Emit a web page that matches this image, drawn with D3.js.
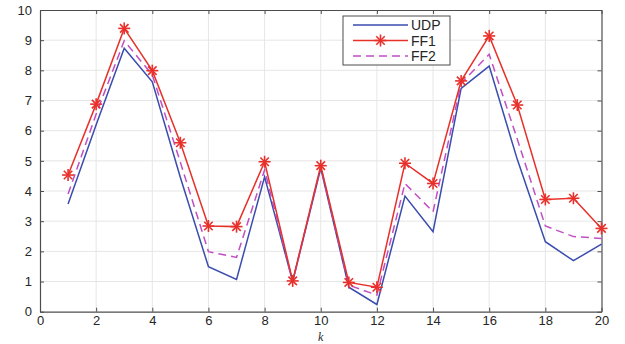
<!DOCTYPE html>
<html>
<head>
<meta charset="utf-8">
<script src="https://cdn.jsdelivr.net/npm/d3@7"></script>
<style>
  html, body { margin: 0; padding: 0; background: #fff; }
  svg { display: block; }
  text { font-family: "Liberation Sans", Arial, sans-serif; }
</style>
</head>
<body>
<svg id="chart" width="625" height="344"></svg>
<script>
// Series values for k = 1..20
const k = d3.range(1, 21);
const udp = [3.57, 6.2, 8.73, 7.62, 4.45, 1.49, 1.07, 4.47, 1.0, 4.75,
             0.81, 0.24, 3.83, 2.65, 7.4, 8.14, 5.05, 2.32, 1.69, 2.24];
const ff1 = [4.53, 6.88, 9.39, 7.99, 5.6, 2.84, 2.82, 4.97, 1.02, 4.84,
             0.97, 0.81, 4.92, 4.25, 7.65, 9.14, 6.85, 3.72, 3.76, 2.76];
const ff2 = [3.9, 6.55, 8.98, 7.85, 4.95, 1.99, 1.8, 4.7, 1.0, 4.8,
             0.88, 0.55, 4.25, 3.31, 7.57, 8.53, 5.72, 2.84, 2.49, 2.43];
const seriesNames = ["UDP", "FF1", "FF2"];
const xTicks = d3.range(0, 21, 2);
const yTicks = d3.range(0, 11, 1);

const svg = d3.select("#chart");
const margin = { left: 40, right: 23.5, top: 10, bottom: 32.3 };
const W = 625, H = 344;
const x = d3.scaleLinear().domain([0, 20]).range([margin.left, W - margin.right]);
const y = d3.scaleLinear().domain([0, 10]).range([H - margin.bottom, margin.top]);

const axisColor = "#4d4d4d";
const gridColor = "#e6e6e6";

// Grid lines
const grid = svg.append("g");
grid.selectAll("line.gx").data(xTicks.slice(1, -1)).enter().append("line")
  .attr("x1", d => x(d)).attr("x2", d => x(d))
  .attr("y1", y(0)).attr("y2", y(10))
  .attr("stroke", gridColor).attr("stroke-width", 1);
grid.selectAll("line.gy").data(yTicks.slice(1, -1)).enter().append("line")
  .attr("x1", x(0)).attr("x2", x(20))
  .attr("y1", d => y(d)).attr("y2", d => y(d))
  .attr("stroke", gridColor).attr("stroke-width", 1);

// Axes with inward ticks on all four sides
function styleAxis(g) {
  g.select(".domain").attr("stroke", axisColor).attr("stroke-width", 1.2);
  g.selectAll(".tick line").attr("stroke", axisColor).attr("stroke-width", 1);
  g.selectAll(".tick text").attr("fill", "#262626")
    .style("font-size", "13px").style("font-family", "'Liberation Sans', Arial, sans-serif");
}
svg.append("g").attr("transform", `translate(0,${y(0)})`)
  .call(d3.axisBottom(x).tickValues(xTicks).tickSize(-4).tickPadding(4.5).tickSizeOuter(0))
  .call(styleAxis);
svg.append("g").attr("transform", `translate(${x(0)},0)`)
  .call(d3.axisLeft(y).tickValues(yTicks).tickSize(-4).tickPadding(8).tickSizeOuter(0))
  .call(styleAxis);
svg.append("g").attr("transform", `translate(0,${y(10)})`)
  .call(d3.axisTop(x).tickValues(xTicks).tickSize(-4).tickFormat("").tickSizeOuter(0))
  .call(styleAxis);
svg.append("g").attr("transform", `translate(${x(20)},0)`)
  .call(d3.axisRight(y).tickValues(yTicks).tickSize(-4).tickFormat("").tickSizeOuter(0))
  .call(styleAxis);

// Axis label
svg.append("text")
  .attr("x", x(10)).attr("y", H - 2.7)
  .attr("text-anchor", "middle")
  .style("font-family", "'Liberation Serif', 'DejaVu Serif', serif")
  .style("font-style", "italic")
  .style("font-size", "12px")
  .attr("fill", "#262626")
  .text("k");

// Lines
const line = d3.line().x((d, i) => x(k[i])).y(d => y(d));
const colors = { UDP: "#3a4cae", FF1: "#e8302a", FF2: "#c04fc4" };

svg.append("path").datum(udp).attr("d", line)
  .attr("fill", "none").attr("stroke", colors.UDP).attr("stroke-width", 1.5);
svg.append("path").datum(ff2).attr("d", line)
  .attr("fill", "none").attr("stroke", colors.FF2).attr("stroke-width", 1.5)
  .attr("stroke-dasharray", "8,5");
svg.append("path").datum(ff1).attr("d", line)
  .attr("fill", "none").attr("stroke", colors.FF1).attr("stroke-width", 1.5);

// Asterisk markers
function star(g, cx, cy, r, color) {
  const s = g.append("g").attr("transform", `translate(${cx},${cy})`);
  [0, 45, 90, 135].forEach(a => {
    const rad = a * Math.PI / 180;
    s.append("line")
      .attr("x1", -r * Math.cos(rad)).attr("y1", -r * Math.sin(rad))
      .attr("x2", r * Math.cos(rad)).attr("y2", r * Math.sin(rad))
      .attr("stroke", color).attr("stroke-width", 1.6);
  });
}
const markers = svg.append("g");
ff1.forEach((v, i) => star(markers, x(k[i]), y(v), 6, colors.FF1));

// Legend
const lg = svg.append("g").attr("transform", "translate(343,16)");
lg.append("rect").attr("width", 107).attr("height", 49)
  .attr("fill", "#fff").attr("stroke", "#4d4d4d").attr("stroke-width", 1);
seriesNames.forEach((name, i) => {
  const yy = 9 + i * 15.5;
  const l = lg.append("line").attr("x1", 10).attr("x2", 65)
    .attr("y1", yy).attr("y2", yy)
    .attr("stroke", colors[name]).attr("stroke-width", 1.5);
  if (name === "FF2") l.attr("stroke-dasharray", "8,5");
  if (name === "FF1") star(lg, 37.5, yy, 6, colors.FF1);
  lg.append("text").attr("x", 68).attr("y", yy + 5)
    .style("font-size", "14px").attr("fill", "#262626").text(name);
});
</script>
</body>
</html>
